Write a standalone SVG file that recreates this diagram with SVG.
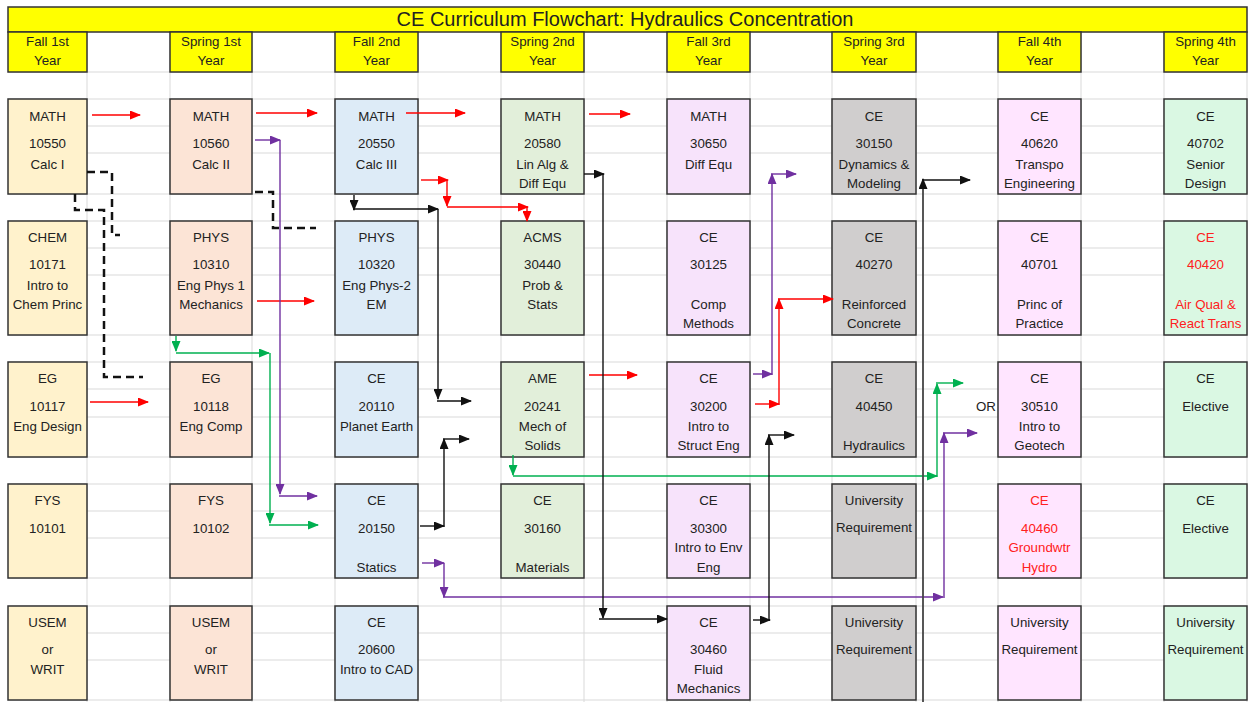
<svg xmlns="http://www.w3.org/2000/svg" width="1250" height="702" viewBox="0 0 1250 702">
<style>
.grid line{stroke:#d9d9d9;stroke-width:1}
.box{stroke:#333;stroke-width:1.5}
.hdr{fill:#ffff00;stroke:#333;stroke-width:1.5}
text{font-family:"Liberation Sans",Arial,sans-serif;font-size:13.3px;fill:#222;text-anchor:middle}
text.red{fill:#ff2020}
.c0{fill:#fff2cc}.c2{fill:#fce4d6}.c4{fill:#ddebf7}.c6{fill:#e2efda}
.c8{fill:#f7e3fb}.c10{fill:#d0cece}.c12{fill:#ffe5ff}.c14{fill:#daf8e3}
.conn path{fill:none;stroke-width:1.4}
.r{stroke:#ff0000;marker-end:url(#ar)}
.p{stroke:#7030a0;marker-end:url(#ap)}
.g{stroke:#00b050;marker-end:url(#ag)}
.k{stroke:#111;marker-end:url(#ak)}
.conn path.d{stroke:#111;stroke-width:2.5;stroke-dasharray:8,5}
</style>
<defs>
<marker id="ar" markerUnits="userSpaceOnUse" markerWidth="11" markerHeight="9" refX="10" refY="4.5" orient="auto"><path d="M0,0 L11,4.5 L0,9 z" fill="#ff0000"/></marker>
<marker id="ap" markerUnits="userSpaceOnUse" markerWidth="11" markerHeight="9" refX="10" refY="4.5" orient="auto"><path d="M0,0 L11,4.5 L0,9 z" fill="#7030a0"/></marker>
<marker id="ag" markerUnits="userSpaceOnUse" markerWidth="11" markerHeight="9" refX="10" refY="4.5" orient="auto"><path d="M0,0 L11,4.5 L0,9 z" fill="#00b050"/></marker>
<marker id="ak" markerUnits="userSpaceOnUse" markerWidth="11" markerHeight="9" refX="10" refY="4.5" orient="auto"><path d="M0,0 L11,4.5 L0,9 z" fill="#111"/></marker>
</defs>
<rect x="0" y="0" width="1250" height="702" fill="#fff"/>
<g class="grid">
<line x1="87" y1="32" x2="87" y2="702"/><line x1="170" y1="32" x2="170" y2="702"/><line x1="252" y1="32" x2="252" y2="702"/><line x1="335" y1="32" x2="335" y2="702"/><line x1="418" y1="32" x2="418" y2="702"/><line x1="501" y1="32" x2="501" y2="702"/><line x1="584" y1="32" x2="584" y2="702"/><line x1="667" y1="32" x2="667" y2="702"/><line x1="750" y1="32" x2="750" y2="702"/><line x1="832" y1="32" x2="832" y2="702"/><line x1="916" y1="32" x2="916" y2="702"/><line x1="998" y1="32" x2="998" y2="702"/><line x1="1081" y1="32" x2="1081" y2="702"/><line x1="1164" y1="32" x2="1164" y2="702"/><line x1="1247" y1="32" x2="1247" y2="702"/>
<line x1="8" y1="72" x2="1247" y2="72"/><line x1="8" y1="99" x2="1247" y2="99"/><line x1="8" y1="126" x2="1247" y2="126"/><line x1="8" y1="153" x2="1247" y2="153"/><line x1="8" y1="194" x2="1247" y2="194"/><line x1="8" y1="221" x2="1247" y2="221"/><line x1="8" y1="248" x2="1247" y2="248"/><line x1="8" y1="275" x2="1247" y2="275"/><line x1="8" y1="335" x2="1247" y2="335"/><line x1="8" y1="362" x2="1247" y2="362"/><line x1="8" y1="389" x2="1247" y2="389"/><line x1="8" y1="417" x2="1247" y2="417"/><line x1="8" y1="457" x2="1247" y2="457"/><line x1="8" y1="484" x2="1247" y2="484"/><line x1="8" y1="511" x2="1247" y2="511"/><line x1="8" y1="538" x2="1247" y2="538"/><line x1="8" y1="578" x2="1247" y2="578"/><line x1="8" y1="606" x2="1247" y2="606"/><line x1="8" y1="633" x2="1247" y2="633"/><line x1="8" y1="660" x2="1247" y2="660"/><line x1="8" y1="700" x2="1247" y2="700"/>
</g>
<g id="title">
<rect class="hdr" x="8" y="7" width="1239" height="25"/>
<text x="625" y="26" style="font-size:20px">CE Curriculum Flowchart: Hydraulics Concentration</text>
</g>
<g id="headers">
<rect class="hdr" x="8" y="32" width="79" height="40"/><text x="47.5" y="46">Fall 1st</text><text x="47.5" y="65">Year</text>
<rect class="hdr" x="170" y="32" width="82" height="40"/><text x="211" y="46">Spring 1st</text><text x="211" y="65">Year</text>
<rect class="hdr" x="335" y="32" width="83" height="40"/><text x="376.5" y="46">Fall 2nd</text><text x="376.5" y="65">Year</text>
<rect class="hdr" x="501" y="32" width="83" height="40"/><text x="542.5" y="46">Spring 2nd</text><text x="542.5" y="65">Year</text>
<rect class="hdr" x="667" y="32" width="83" height="40"/><text x="708.5" y="46">Fall 3rd</text><text x="708.5" y="65">Year</text>
<rect class="hdr" x="832" y="32" width="84" height="40"/><text x="874" y="46">Spring 3rd</text><text x="874" y="65">Year</text>
<rect class="hdr" x="998" y="32" width="83" height="40"/><text x="1039.5" y="46">Fall 4th</text><text x="1039.5" y="65">Year</text>
<rect class="hdr" x="1164" y="32" width="83" height="40"/><text x="1205.5" y="46">Spring 4th</text><text x="1205.5" y="65">Year</text>
</g>
<!-- Fall 1st -->
<g id="math10550"><rect class="box c0" x="8" y="99" width="79" height="95"/><text x="47.5" y="121">MATH</text><text x="47.5" y="148">10550</text><text x="47.5" y="169">Calc I</text></g>
<g id="chem10171"><rect class="box c0" x="8" y="221" width="79" height="114"/><text x="47.5" y="242">CHEM</text><text x="47.5" y="269">10171</text><text x="47.5" y="290">Intro to</text><text x="47.5" y="309">Chem Princ</text></g>
<g id="eg10117"><rect class="box c0" x="8" y="362" width="79" height="95"/><text x="47.5" y="383">EG</text><text x="47.5" y="411">10117</text><text x="47.5" y="431">Eng Design</text></g>
<g id="fys10101"><rect class="box c0" x="8" y="484" width="79" height="94"/><text x="47.5" y="505">FYS</text><text x="47.5" y="533">10101</text></g>
<g id="usem1"><rect class="box c0" x="8" y="606" width="79" height="94"/><text x="47.5" y="627">USEM</text><text x="47.5" y="654">or</text><text x="47.5" y="674">WRIT</text></g>
<!-- Spring 1st -->
<g id="math10560"><rect class="box c2" x="170" y="99" width="82" height="95"/><text x="211" y="121">MATH</text><text x="211" y="148">10560</text><text x="211" y="169">Calc II</text></g>
<g id="phys10310"><rect class="box c2" x="170" y="221" width="82" height="114"/><text x="211" y="242">PHYS</text><text x="211" y="269">10310</text><text x="211" y="290">Eng Phys 1</text><text x="211" y="309">Mechanics</text></g>
<g id="eg10118"><rect class="box c2" x="170" y="362" width="82" height="95"/><text x="211" y="383">EG</text><text x="211" y="411">10118</text><text x="211" y="431">Eng Comp</text></g>
<g id="fys10102"><rect class="box c2" x="170" y="484" width="82" height="94"/><text x="211" y="505">FYS</text><text x="211" y="533">10102</text></g>
<g id="usem2"><rect class="box c2" x="170" y="606" width="82" height="94"/><text x="211" y="627">USEM</text><text x="211" y="654">or</text><text x="211" y="674">WRIT</text></g>
<!-- Fall 2nd -->
<g id="math20550"><rect class="box c4" x="335" y="99" width="83" height="95"/><text x="376.5" y="121">MATH</text><text x="376.5" y="148">20550</text><text x="376.5" y="169">Calc III</text></g>
<g id="phys10320"><rect class="box c4" x="335" y="221" width="83" height="114"/><text x="376.5" y="242">PHYS</text><text x="376.5" y="269">10320</text><text x="376.5" y="290">Eng Phys-2</text><text x="376.5" y="309">EM</text></g>
<g id="ce20110"><rect class="box c4" x="335" y="362" width="83" height="95"/><text x="376.5" y="383">CE</text><text x="376.5" y="411">20110</text><text x="376.5" y="431">Planet Earth</text></g>
<g id="ce20150"><rect class="box c4" x="335" y="484" width="83" height="94"/><text x="376.5" y="505">CE</text><text x="376.5" y="533">20150</text><text x="376.5" y="572">Statics</text></g>
<g id="ce20600"><rect class="box c4" x="335" y="606" width="83" height="94"/><text x="376.5" y="627">CE</text><text x="376.5" y="654">20600</text><text x="376.5" y="674">Intro to CAD</text></g>
<!-- Spring 2nd -->
<g id="math20580"><rect class="box c6" x="501" y="99" width="83" height="95"/><text x="542.5" y="121">MATH</text><text x="542.5" y="148">20580</text><text x="542.5" y="169">Lin Alg &amp;</text><text x="542.5" y="188">Diff Equ</text></g>
<g id="acms30440"><rect class="box c6" x="501" y="221" width="83" height="114"/><text x="542.5" y="242">ACMS</text><text x="542.5" y="269">30440</text><text x="542.5" y="290">Prob &amp;</text><text x="542.5" y="309">Stats</text></g>
<g id="ame20241"><rect class="box c6" x="501" y="362" width="83" height="95"/><text x="542.5" y="383">AME</text><text x="542.5" y="411">20241</text><text x="542.5" y="431">Mech of</text><text x="542.5" y="450">Solids</text></g>
<g id="ce30160"><rect class="box c6" x="501" y="484" width="83" height="94"/><text x="542.5" y="505">CE</text><text x="542.5" y="533">30160</text><text x="542.5" y="572">Materials</text></g>
<!-- Fall 3rd -->
<g id="math30650"><rect class="box c8" x="667" y="99" width="83" height="95"/><text x="708.5" y="121">MATH</text><text x="708.5" y="148">30650</text><text x="708.5" y="169">Diff Equ</text></g>
<g id="ce30125"><rect class="box c8" x="667" y="221" width="83" height="114"/><text x="708.5" y="242">CE</text><text x="708.5" y="269">30125</text><text x="708.5" y="309">Comp</text><text x="708.5" y="328">Methods</text></g>
<g id="ce30200"><rect class="box c8" x="667" y="362" width="83" height="95"/><text x="708.5" y="383">CE</text><text x="708.5" y="411">30200</text><text x="708.5" y="431">Intro to</text><text x="708.5" y="450">Struct Eng</text></g>
<g id="ce30300"><rect class="box c8" x="667" y="484" width="83" height="94"/><text x="708.5" y="505">CE</text><text x="708.5" y="533">30300</text><text x="708.5" y="552">Intro to Env</text><text x="708.5" y="572">Eng</text></g>
<g id="ce30460"><rect class="box c8" x="667" y="606" width="83" height="94"/><text x="708.5" y="627">CE</text><text x="708.5" y="654">30460</text><text x="708.5" y="674">Fluid</text><text x="708.5" y="693">Mechanics</text></g>
<!-- Spring 3rd -->
<g id="ce30150"><rect class="box c10" x="832" y="99" width="84" height="95"/><text x="874" y="121">CE</text><text x="874" y="148">30150</text><text x="874" y="169">Dynamics &amp;</text><text x="874" y="188">Modeling</text></g>
<g id="ce40270"><rect class="box c10" x="832" y="221" width="84" height="114"/><text x="874" y="242">CE</text><text x="874" y="269">40270</text><text x="874" y="309">Reinforced</text><text x="874" y="328">Concrete</text></g>
<g id="ce40450"><rect class="box c10" x="832" y="362" width="84" height="95"/><text x="874" y="383">CE</text><text x="874" y="411">40450</text><text x="874" y="450">Hydraulics</text></g>
<g id="univ1"><rect class="box c10" x="832" y="484" width="84" height="94"/><text x="874" y="505">University</text><text x="874" y="532">Requirement</text></g>
<g id="univ2"><rect class="box c10" x="832" y="606" width="84" height="94"/><text x="874" y="627">University</text><text x="874" y="654">Requirement</text></g>
<!-- Fall 4th -->
<g id="ce40620"><rect class="box c12" x="998" y="99" width="83" height="95"/><text x="1039.5" y="121">CE</text><text x="1039.5" y="148">40620</text><text x="1039.5" y="169">Transpo</text><text x="1039.5" y="188">Engineering</text></g>
<g id="ce40701"><rect class="box c12" x="998" y="221" width="83" height="114"/><text x="1039.5" y="242">CE</text><text x="1039.5" y="269">40701</text><text x="1039.5" y="309">Princ of</text><text x="1039.5" y="328">Practice</text></g>
<g id="ce30510"><rect class="box c12" x="998" y="362" width="83" height="95"/><text x="1039.5" y="383">CE</text><text x="1039.5" y="411">30510</text><text x="1039.5" y="431">Intro to</text><text x="1039.5" y="450">Geotech</text><text x="986" y="411">OR</text></g>
<g id="ce40460"><rect class="box c12" x="998" y="484" width="83" height="94"/><text class="red" x="1039.5" y="505">CE</text><text class="red" x="1039.5" y="533">40460</text><text class="red" x="1039.5" y="552">Groundwtr</text><text class="red" x="1039.5" y="572">Hydro</text></g>
<g id="univ3"><rect class="box c12" x="998" y="606" width="83" height="94"/><text x="1039.5" y="627">University</text><text x="1039.5" y="654">Requirement</text></g>
<!-- Spring 4th -->
<g id="ce40702"><rect class="box c14" x="1164" y="99" width="83" height="95"/><text x="1205.5" y="121">CE</text><text x="1205.5" y="148">40702</text><text x="1205.5" y="169">Senior</text><text x="1205.5" y="188">Design</text></g>
<g id="ce40420"><rect class="box c14" x="1164" y="221" width="83" height="114"/><text class="red" x="1205.5" y="242">CE</text><text class="red" x="1205.5" y="269">40420</text><text class="red" x="1205.5" y="309">Air Qual &amp;</text><text class="red" x="1205.5" y="328">React Trans</text></g>
<g id="elective1"><rect class="box c14" x="1164" y="362" width="83" height="95"/><text x="1205.5" y="383">CE</text><text x="1205.5" y="411">Elective</text></g>
<g id="elective2"><rect class="box c14" x="1164" y="484" width="83" height="94"/><text x="1205.5" y="505">CE</text><text x="1205.5" y="533">Elective</text></g>
<g id="univ4"><rect class="box c14" x="1164" y="606" width="83" height="94"/><text x="1205.5" y="627">University</text><text x="1205.5" y="654">Requirement</text></g>
<g id="connectors" class="conn">
<path class="r" d="M92,115 H140"/>
<path class="r" d="M256,113 H317"/>
<path class="r" d="M406,113 H465"/>
<path class="r" d="M589,114 H630"/>
<path class="r" d="M421,180 H448"/>
<path class="r" d="M447,180 V206"/>
<path class="r" d="M447,207 H528"/>
<path class="r" d="M527,207 V221"/>
<path class="r" d="M257,301 H314"/>
<path class="r" d="M90,402 H148"/>
<path class="r" d="M589,375 H637"/>
<path class="r" d="M755,404 H779"/>
<path class="r" d="M779,405 V299"/>
<path class="r" d="M778,299 H833"/>
<path class="p" d="M255,140 H280"/>
<path class="p" d="M280,140 V494"/>
<path class="p" d="M279,496 H317"/>
<path class="p" d="M753,374 H772"/>
<path class="p" d="M772,375 V174"/>
<path class="p" d="M771,174 H796"/>
<path class="p" d="M422,563 H444"/>
<path class="p" d="M444,563 V597"/>
<path class="p" d="M443,597 H943"/>
<path class="p" d="M944,598 V433"/>
<path class="p" d="M943,433 H977"/>
<path class="g" d="M176,336 V351"/>
<path class="g" d="M176,353 H269"/>
<path class="g" d="M270,353 V523"/>
<path class="g" d="M269,525 H318"/>
<path class="g" d="M513,455 V475"/>
<path class="g" d="M513,476 H937"/>
<path class="g" d="M937,477 V384"/>
<path class="g" d="M936,383 H963"/>
<path class="k" d="M354,195 V210"/>
<path class="k" d="M353,209 H438"/>
<path class="k" d="M438,209 V399"/>
<path class="k" d="M437,401 H471"/>
<path class="k" d="M584,174 H604"/>
<path class="k" d="M603,174 V618"/>
<path class="k" d="M599,619 H667"/>
<path class="k" d="M420,526 H444"/>
<path class="k" d="M444,527 V439"/>
<path class="k" d="M443,439 H469"/>
<path class="k" d="M753,620 H770"/>
<path class="k" d="M769,621 V435"/>
<path class="k" d="M768,435 H794"/>
<path class="k" d="M923,702 V179" style="stroke:#444;stroke-width:1.8"/>
<path class="k" d="M922,180 H970"/>
<path class="d" d="M87,172 H112 V235 H120"/>
<path class="d" d="M75,194 V210 H104 V377 H143"/>
<path class="d" d="M255,192 H273 V228 H316"/>
</g>
</svg>
